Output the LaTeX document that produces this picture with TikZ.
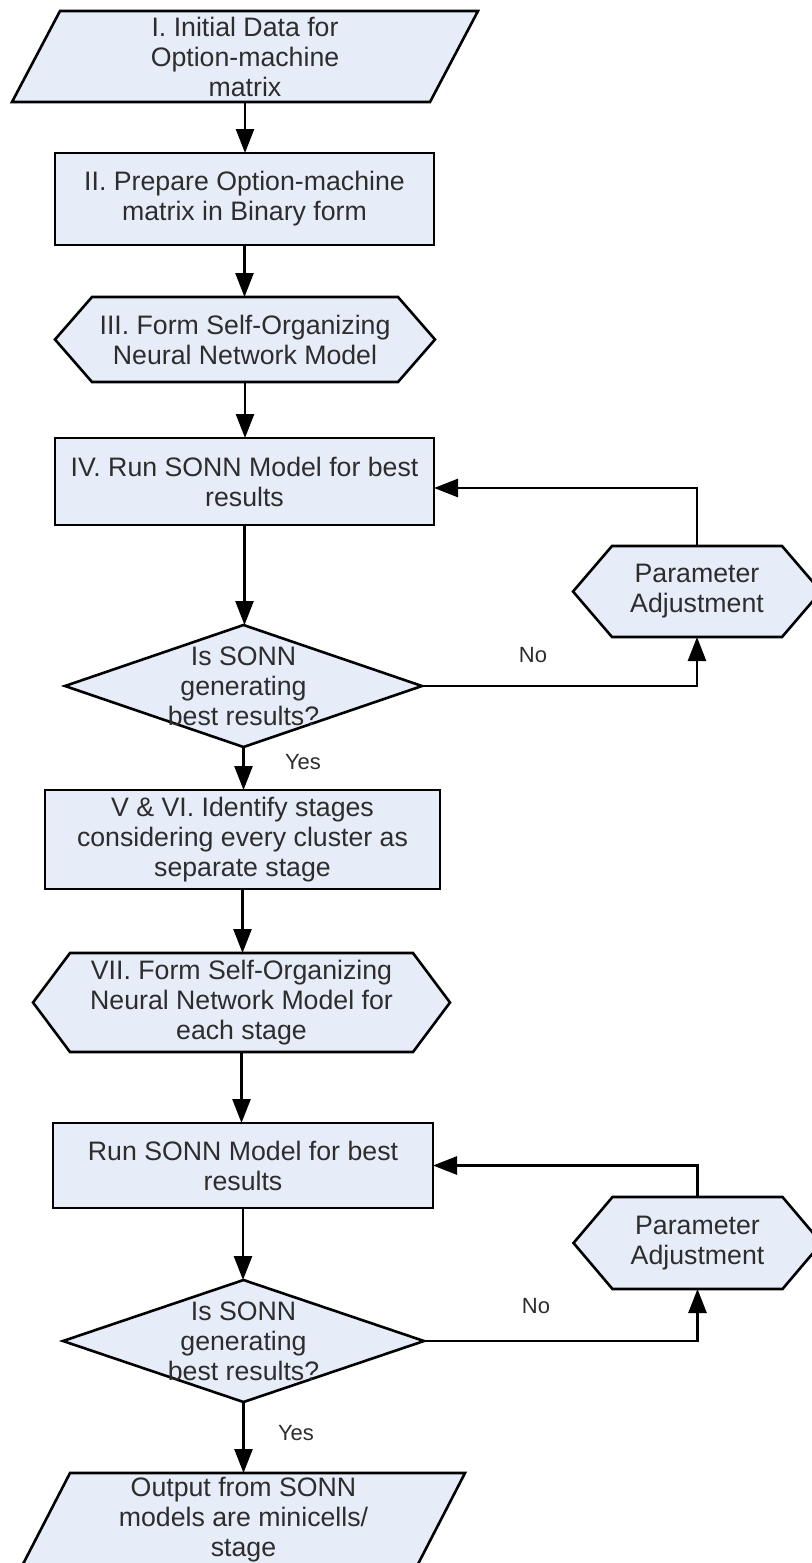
\documentclass[tikz,border=0pt]{standalone}
\usepackage{fontspec}
\setmainfont{Liberation Sans}
\usetikzlibrary{arrows.meta,backgrounds}

\definecolor{boxfill}{RGB}{230,236,248}
\definecolor{boxtext}{RGB}{45,45,45}

% outlines drawn around the text holders, using their anchors
\newcommand\rectoutline[1]{%
  \draw[outline] (#1.north west) rectangle (#1.south east);}
\newcommand\paraoutline[2]{%
  \draw[outline] (#1.south west) -- ([xshift=#2]#1.north west)
    -- (#1.north east) -- ([xshift=-#2]#1.south east) -- cycle;}
\newcommand\hexoutline[2]{%
  \draw[outline] (#1.west) -- ([xshift=#2]#1.north west)
    -- ([xshift=-#2]#1.north east) -- (#1.east)
    -- ([xshift=-#2]#1.south east) -- ([xshift=#2]#1.south west) -- cycle;}
\newcommand\diamondoutline[1]{%
  \draw[outline] (#1.north) -- (#1.east) -- (#1.south) -- (#1.west) -- cycle;}

\begin{document}
\begin{tikzpicture}[x=0.5pt,y=-0.5pt,
  every node/.style={inner sep=0pt, outer sep=0pt, text=boxtext,
    align=center, font=\fontsize{13.35}{15}\selectfont},
  holder/.style 2 args={minimum width=#1, minimum height=#2},
  outline/.style={draw=black, fill=boxfill, line width=1.3pt, line join=miter},
  flow/.style={-{Triangle[length=12pt,width=9pt]}, line width=1.3pt},
  lbl/.style={font=\fontsize{11}{13}\selectfont}]

\useasboundingbox (0,0) rectangle (811,1563);

% main column
\node[holder={233pt}{45.5pt}] (n1) at (245,56.5)
  {I. Initial Data for\\Option-machine\\matrix};
\node[holder={189.5pt}{46pt}] (n2) at (244.5,199)
  {II. Prepare Option-machine\\matrix in Binary form};
\node[holder={190pt}{42.5pt}] (n3) at (245,339.5)
  {III. Form Self-Organizing\\Neural Network Model};
\node[holder={189.5pt}{43.5pt}] (n4) at (244.5,481.5)
  {IV. Run SONN Model for best\\results};
\node[holder={178.5pt}{61pt}] (d1) at (243.5,686) {};
\node (d1t) at (d1.center) {Is SONN\\generating\\best results?};
\node[holder={197.5pt}{49.5pt}] (n5) at (242.5,839.5)
  {V \& VI. Identify stages\\considering every cluster as\\separate stage};
\node[holder={208.5pt}{49.5pt}] (n6) at (241.5,1002.5)
  {VII. Form Self-Organizing\\Neural Network Model for\\each stage};
\node[holder={190pt}{42.5pt}] (n7) at (243,1165.5)
  {Run SONN Model for best\\results};
\node[holder={180.5pt}{61pt}] (d2) at (243.5,1341) {};
\node (d2t) at (d2.center) {Is SONN\\generating\\best results?};
\node[holder={221.5pt}{46.5pt}] (n8) at (243.5,1519.5)
  {Output from SONN\\models are minicells/\\stage};

% side boxes
\node[holder={124pt}{45.5pt}] (p1) at (697,591.5) {Parameter\\Adjustment};
\node[holder={124pt}{46pt}] (p2) at (697.5,1243) {Parameter\\Adjustment};

\begin{scope}[on background layer]
  \paraoutline{n1}{24pt}
  \rectoutline{n2}
  \hexoutline{n3}{18.5pt}
  \rectoutline{n4}
  \diamondoutline{d1}
  \rectoutline{n5}
  \hexoutline{n6}{18.5pt}
  \rectoutline{n7}
  \diamondoutline{d2}
  \paraoutline{n8}{24pt}
  \hexoutline{p1}{19.5pt}
  \hexoutline{p2}{19.5pt}
\end{scope}

% connectors
\draw[flow] (n1.south) -- (n1.south |- n2.north);
\draw[flow] (n2.south) -- (n2.south |- n3.north);
\draw[flow] (n3.south) -- (n3.south |- n4.north);
\draw[flow] (n4.south) -- (n4.south |- d1.north);
\draw[flow] (d1.south) -- (d1.south |- n5.north);
\draw[flow] (n5.south) -- (n5.south |- n6.north);
\draw[flow] (n6.south) -- (n6.south |- n7.north);
\draw[flow] (n7.south) -- (n7.south |- d2.north);
\draw[flow] (d2.south) -- (d2.south |- n8.north);

% adjustment loops
\draw[flow] (d1.east) -| (p1.south);
\draw[flow] (p1.north) |- ([yshift=-3.25pt]n4.east);
\draw[flow] (d2.east) -| (p2.south);
\draw[flow] (p2.north) |- (n7.east);

% branch labels
\node[lbl] (no1) at (533,655) {No};
\node[lbl] (yes1) at (303,762) {Yes};
\node[lbl] (no2) at (536,1306) {No};
\node[lbl] (yes2) at (296,1433) {Yes};
\end{tikzpicture}
\end{document}
